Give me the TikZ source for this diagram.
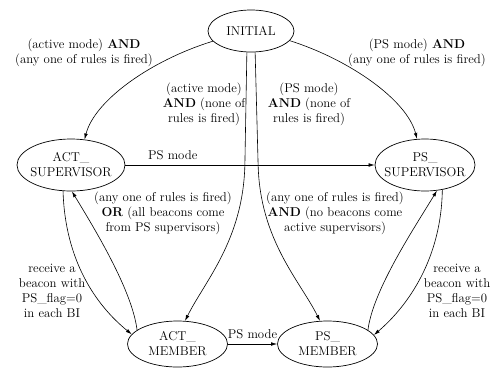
\documentclass[tikz,border=0pt]{standalone}
\usetikzlibrary{shapes.geometric,arrows.meta}
\newcommand{\lblfont}{\fontsize{12.8}{15}\selectfont}
\begin{document}
\begin{tikzpicture}[x=1pt,y=1pt,
  state/.style={ellipse,draw,line width=0.7pt,inner xsep=-8pt,inner ysep=0pt,align=center,font=\lblfont},
  lab/.style={align=center,font=\lblfont,inner sep=0pt},
  conn/.style={-{Latex[length=6pt,width=3.6pt]},line width=0.6pt}]
\useasboundingbox (0,0) rectangle (495,-370);
\node[state,minimum width=86pt,minimum height=42pt] (INITIAL) at (251,-31) {INITIAL};
\node[state,minimum width=108pt,minimum height=52pt] (ACTSUP) at (71,-165) {ACT\_\\SUPERVISOR};
\node[state,minimum width=100pt,minimum height=52pt] (PSSUP) at (425,-165) {PS\_\\SUPERVISOR};
\node[state,minimum width=100pt,minimum height=46pt] (ACTMEM) at (177.5,-344) {ACT\_\\MEMBER};
\node[state,minimum width=100pt,minimum height=46pt] (PSMEM) at (327.5,-344) {PS\_\\MEMBER};

\node[lab] (l1) at (84,-53) {(active mode) \textbf{AND}\\(any one of rules is fired)};
\node[lab] (l2) at (417,-53) {(PS mode) \textbf{AND}\\(any one of rules is fired)};
\node[lab] (l3) at (204,-104) {(active mode)\\\textbf{AND} (none of\\rules is fired)};
\node[lab] (l4) at (309,-104) {(PS mode)\\\textbf{AND} (none of\\rules is fired)};
\node[lab] (l7) at (163,-213) {(any one of rules is fired)\\\textbf{OR} (all beacons come\\from PS supervisors)};
\node[lab] (l8) at (335,-213) {(any one of rules is fired)\\\textbf{AND} (no beacons come\\active supervisors)};
\node[lab] (l9) at (52,-291) {receive a\\beacon with\\PS\_flag=0\\in each BI};
\node[lab] (l10) at (457,-291) {receive a\\beacon with\\PS\_flag=0\\in each BI};

\draw[conn] (INITIAL.195) .. controls +(-62,-19) and +(10,39) .. (ACTSUP.62);
\draw[conn] (INITIAL.346) .. controls +(60,-19) and +(-10,39) .. (PSSUP.107);
\draw[conn] (INITIAL.259) -- ++(-2,-113) .. controls +(-2,-75) and +(20,40) .. (ACTMEM.72);
\draw[conn] (INITIAL.281) -- ++(3,-113) .. controls +(2,-75) and +(-20,40) .. (PSMEM.108);
\draw[conn] (ACTSUP.east) -- node[lab,pos=0.19,above=5pt] (l5) {PS mode} (PSSUP.west);
\draw[conn] (ACTMEM.east) -- node[lab,midway,above=5pt] (l6) {PS mode} (PSMEM.west);
\draw[conn] (ACTSUP.253) .. controls +(2,-68) and +(-37,30) .. (ACTMEM.168);
\draw[conn] (ACTMEM.161) .. controls +(-5,40) and +(23,-38) .. (ACTSUP.272);
\draw[conn] (PSMEM.19) .. controls +(5,40) and +(-23,-38) .. (PSSUP.295);
\draw[conn] (PSSUP.305) .. controls +(-1,-68) and +(35,30) .. (PSMEM.11);
\end{tikzpicture}
\end{document}
